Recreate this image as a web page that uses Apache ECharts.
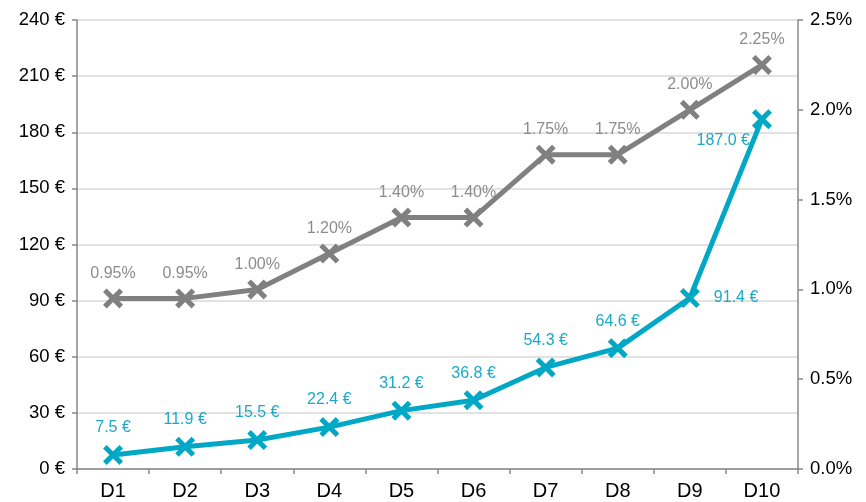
<!DOCTYPE html>
<html>
<head>
<meta charset="utf-8">
<script src="https://cdn.jsdelivr.net/npm/echarts@6/dist/echarts.min.js"></script>
<style>html,body{margin:0;padding:0;background:#fff}#c{width:866px;height:502px}</style>
</head>
<body>
<div id="c"></div>
<script>
var categories = ['D1','D2','D3','D4','D5','D6','D7','D8','D9','D10'];
var euroValues = [7.5, 11.9, 15.5, 22.4, 31.2, 36.8, 54.3, 64.6, 91.4, 187.0];
var pctValues = [0.95, 0.95, 1.00, 1.20, 1.40, 1.40, 1.75, 1.75, 2.00, 2.25];

var X = 'path://M0,1.8L1.8,0L10,8.2L8.2,10ZM8.2,0L10,1.8L1.8,10L0,8.2Z';
var BLUE = '#00a8c6', GREY = '#808080';
var font = 'Liberation Sans, Arial, sans-serif';

var blueData = euroValues.map(function (v, i) {
  var d = { value: v };
  if (i === 8) d.label = { position: 'right', distance: 14, offset: [0, 0] };
  if (i === 9) d.label = { position: 'left', distance: 2, offset: [0, 21] };
  return d;
});

var chart = echarts.init(document.getElementById('c'));
chart.setOption({
  animation: false,
  grid: { left: 77, right: 68, top: 20, bottom: 33, containLabel: false },
  xAxis: {
    type: 'category', data: categories, boundaryGap: true,
    axisLine: { lineStyle: { color: '#888', width: 1.5 } },
    axisTick: { show: true, length: 5, lineStyle: { color: '#888', width: 1.5 } },
    axisLabel: { color: '#000', fontSize: 20, fontFamily: font, margin: 12 }
  },
  yAxis: [{
    type: 'value', min: 0, max: 240, interval: 30,
    axisLine: { show: true, lineStyle: { color: '#888', width: 1.5 } },
    axisTick: { show: true, length: 5, lineStyle: { color: '#888', width: 1.5 } },
    splitLine: { lineStyle: { color: '#d9d9d9', width: 1.5 } },
    axisLabel: { color: '#000', fontSize: 18.5, fontFamily: font, margin: 12, formatter: '{value} €' }
  }, {
    type: 'value', min: 0, max: 2.5, interval: 0.5, position: 'right',
    axisLine: { show: true, lineStyle: { color: '#888', width: 1.5 } },
    axisTick: { show: true, length: 5, lineStyle: { color: '#888', width: 1.5 } },
    splitLine: { show: false },
    axisLabel: { color: '#000', fontSize: 18.5, fontFamily: font, margin: 12,
      formatter: function (v) { return v.toFixed(1) + '%'; } }
  }],
  series: [{
    type: 'line', yAxisIndex: 1, data: pctValues,
    symbol: X, symbolSize: 20,
    lineStyle: { color: GREY, width: 5 },
    itemStyle: { color: GREY },
    label: { show: true, position: 'top', distance: 7, color: '#8c8c8c', fontSize: 16, fontFamily: font,
      formatter: function (p) { return p.value.toFixed(2) + '%'; } },
    z: 2
  }, {
    type: 'line', yAxisIndex: 0, data: blueData,
    symbol: X, symbolSize: 20,
    lineStyle: { color: BLUE, width: 5 },
    itemStyle: { color: BLUE },
    label: { show: true, position: 'top', distance: 9, color: '#1aa9c9', fontSize: 16, fontFamily: font,
      formatter: function (p) { return p.value.toFixed(1) + ' €'; } },
    z: 3
  }]
});
</script>
</body>
</html>
